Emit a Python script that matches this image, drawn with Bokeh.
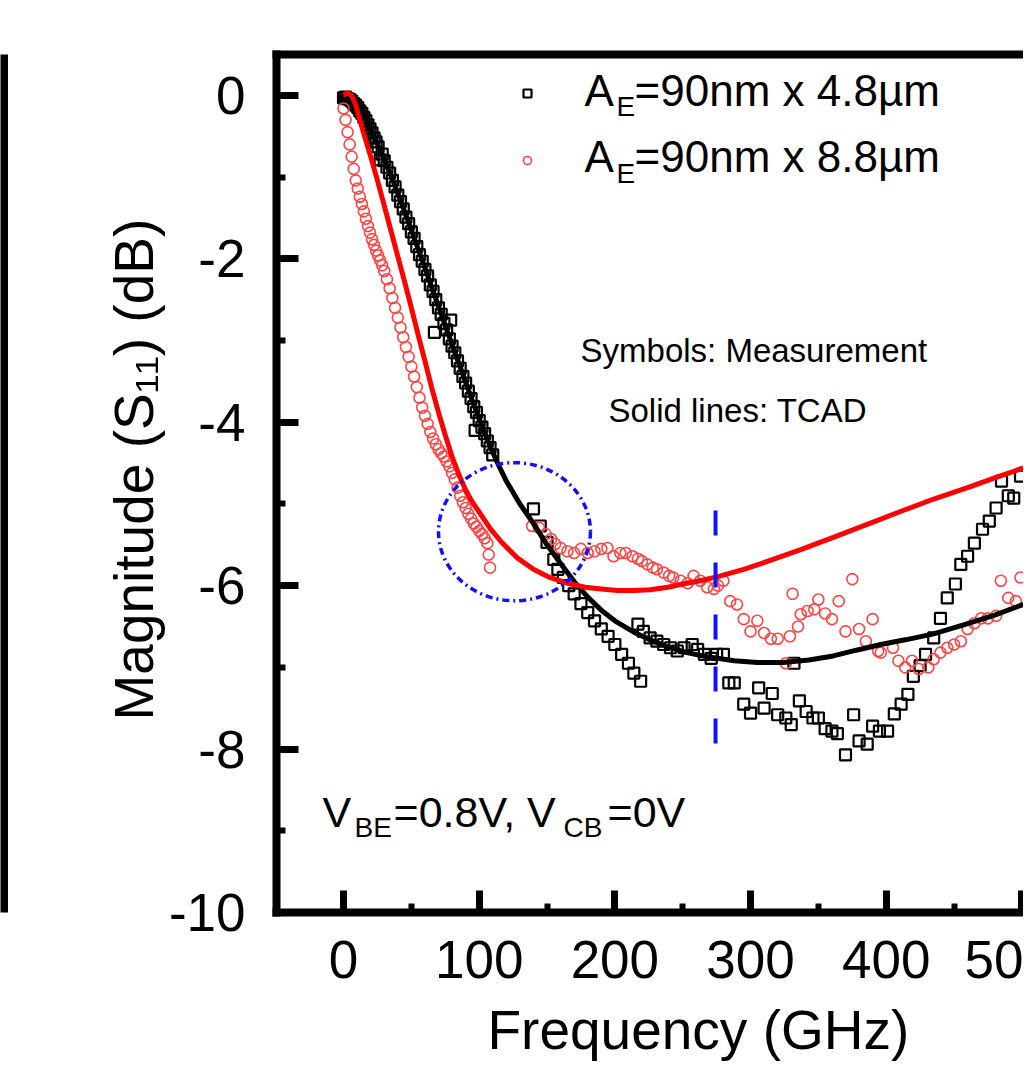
from bokeh.plotting import figure
from bokeh.layouts import row
from bokeh.models import (Range1d, LinearAxis, SingleIntervalTicker, FixedTicker,
                          PrintfTickFormatter, Label, Legend, LegendItem, Title)
from bokeh.embed import file_html
from bokeh.resources import INLINE

# ---------------- data ----------------
# TCAD, A_E = 90nm x 4.8um (black line)
tcad48_f = [0, 5, 10, 15, 20, 25, 30, 35, 40, 45, 50, 55, 60, 65, 70, 75, 80, 85, 90, 95,
            100, 105, 110, 115, 120, 130, 140, 150, 160, 170, 180, 190, 200, 214, 227, 239,
            253, 268, 288, 305, 324, 343, 361, 378, 396, 415, 435, 457, 480, 501]
tcad48_db = [0.0, -0.04, -0.12, -0.25, -0.42, -0.6, -0.79, -0.98, -1.2, -1.42, -1.65, -1.88,
             -2.11, -2.35, -2.58, -2.82, -3.05, -3.28, -3.51, -3.74, -3.96, -4.17, -4.37,
             -4.55, -4.72, -5.0, -5.24, -5.5, -5.73, -5.95, -6.14, -6.3, -6.43, -6.57, -6.67,
             -6.75, -6.82, -6.87, -6.92, -6.94, -6.94, -6.91, -6.86, -6.79, -6.72, -6.66,
             -6.59, -6.48, -6.36, -6.23]

# TCAD, A_E = 90nm x 8.8um (red line)
tcad88_f = [0, 3, 6, 9, 12, 15, 20, 25, 30, 35, 40, 45, 50, 55, 60, 65, 70, 75, 80, 85, 90,
            95, 100, 108, 116, 128, 140, 152, 165, 178, 190, 202, 214, 226, 239, 250, 263,
            276, 295, 313, 337, 361, 386, 411, 435, 460, 480, 501]
tcad88_db = [0.0, 0.03, 0.0, -0.12, -0.3, -0.47, -0.75, -1.04, -1.35, -1.66, -1.97, -2.28,
             -2.6, -2.93, -3.25, -3.58, -3.88, -4.16, -4.42, -4.64, -4.83, -4.98, -5.1, -5.3,
             -5.46, -5.66, -5.8, -5.9, -5.97, -6.02, -6.04, -6.06, -6.06, -6.05, -6.02, -5.98,
             -5.94, -5.89, -5.8, -5.7, -5.56, -5.41, -5.25, -5.09, -4.94, -4.8, -4.68, -4.56]

# Measurement, A_E = 90nm x 4.8um (black squares)
meas48_f = [0, 1.5, 3, 4.5, 6, 7.5, 9, 10.5, 12, 13.5, 15, 16.5, 18, 19.5, 21, 22.5, 24, 25.5,
            27, 28.5, 30, 32, 34, 36, 38, 40, 42, 44, 46, 48, 50, 52, 54, 56, 58, 60, 62, 64,
            66, 67, 68, 70, 72, 74, 76, 78, 79, 80, 82, 84, 86, 88, 90, 92, 94, 96, 97, 98,
            100, 102, 104, 106, 108, 110,
            140, 145, 150, 155, 158, 162, 166, 170, 175, 180, 185, 190, 195, 200, 205, 210,
            214, 219,
            217, 221, 226, 231, 236, 241, 246, 251, 257, 261, 266, 271, 275, 280, 284, 288,
            295, 300, 306, 310, 316, 320, 326,
            330, 332, 336, 341, 346, 350, 355, 360, 364, 370, 376, 380, 386, 390, 395, 401,
            406, 411, 416, 420, 425, 429, 435, 440, 445, 451, 455, 460, 465, 471, 476, 481,
            485, 490, 494, 499]
meas48_db = [-0.03, -0.02, -0.04, -0.05, -0.07, -0.1, -0.12, -0.15, -0.19, -0.22, -0.27,
             -0.31, -0.36, -0.41, -0.46, -0.52, -0.57, -0.63, -0.79, -0.72, -0.8, -0.88,
             -0.95, -1.04, -1.12, -1.22, -1.3, -1.39, -1.49, -1.57, -1.67, -1.75, -1.85,
             -1.95, -2.03, -2.13, -2.21, -2.32, -2.4, -2.9, -2.5, -2.6, -2.68, -2.79, -2.87,
             -2.98, -2.75, -3.07, -3.15, -3.25, -3.34, -3.44, -3.52, -3.62, -3.71, -3.81,
             -4.1, -3.88, -3.98, -4.06, -4.14, -4.23, -4.31, -4.4,
             -5.06, -5.27, -5.47, -5.68, -5.8, -5.9, -6.0, -6.1, -6.22, -6.33, -6.43, -6.53,
             -6.62, -6.72, -6.84, -6.95, -7.07, -7.17,
             -6.47, -6.56, -6.64, -6.68, -6.72, -6.76, -6.8, -6.76, -6.72, -6.78, -6.84,
             -6.89, -6.84, -6.84, -7.19, -7.19, -7.45, -7.56, -7.25, -7.5, -7.32, -7.58, -7.62,
             -7.7, -6.95, -7.41, -7.54, -7.62, -7.62, -7.75, -7.78, -7.81, -8.07, -7.58, -7.9,
             -7.94, -7.72, -7.78, -7.78, -7.57, -7.45, -7.33, -7.11, -6.98, -6.84, -6.64,
             -6.4, -6.15, -5.98, -5.74, -5.64, -5.48, -5.31, -5.21, -5.05, -4.72, -4.9, -4.93,
             -4.66]

# Measurement, A_E = 90nm x 8.8um (red circles)
meas88_f = [0, 1.5, 3, 4.5, 6, 7.5, 9, 10.5, 12, 13.5, 15, 16.5, 18, 19.5, 21, 22.5, 24, 25.5,
            27, 28.5, 30, 32, 34, 36, 38, 40, 42, 44, 46, 48, 50, 52, 54, 56, 58, 60, 62, 64,
            66, 68, 70, 72, 74, 76, 78, 80, 82, 84, 86, 88, 90, 92, 94, 96, 98, 100, 102, 104,
            106, 107, 108,
            139, 144, 149, 153, 156, 160, 165, 170, 175, 180, 185, 190, 194.5, 199, 204, 208,
            213, 217, 220, 224, 228, 231, 236, 240, 243, 248.5, 253.6, 258, 263, 268, 273,
            276, 280, 285, 290, 295, 300, 305, 310, 315, 320, 326, 329, 331, 335, 337, 342,
            347, 350, 355, 360, 365, 370, 375, 380, 385, 390, 394, 396, 405, 409, 414, 419,
            424, 431, 435, 440, 445, 450, 455, 460, 465, 470, 475, 481, 484.5, 490, 495.6,
            499]
meas88_db = [-0.16, -0.3, -0.45, -0.6, -0.75, -0.9, -1.04, -1.14, -1.24, -1.33, -1.42, -1.51,
             -1.6, -1.68, -1.76, -1.83, -1.9, -1.96, -2.02, -2.08, -2.15, -2.25, -2.36, -2.48,
             -2.6, -2.72, -2.84, -2.96, -3.08, -3.2, -3.32, -3.44, -3.57, -3.7, -3.82, -3.92,
             -4.02, -4.12, -4.2, -4.27, -4.33, -4.38, -4.42, -4.48, -4.54, -4.62, -4.7, -4.8,
             -4.9, -4.98, -5.05, -5.12, -5.18, -5.24, -5.28, -5.33, -5.37, -5.42, -5.48,
             -5.62, -5.78,
             -5.27, -5.29, -5.37, -5.43, -5.49, -5.54, -5.58, -5.6, -5.55, -5.6, -5.58, -5.55,
             -5.54, -5.64, -5.6, -5.6, -5.64, -5.67, -5.7, -5.74, -5.78, -5.8, -5.84, -5.88,
             -5.9, -5.94, -5.97, -5.88, -5.94, -6.02, -6.04, -6.0, -5.94, -6.19, -6.23, -6.41,
             -6.56, -6.43, -6.58, -6.65, -6.65, -6.95, -6.62, -6.1, -6.5, -6.35, -6.31, -6.29,
             -6.17, -6.34, -6.41, -6.19, -6.56, -5.92, -6.53, -6.68, -6.41, -6.8, -6.82,
             -6.76, -6.92, -7.0, -6.92, -7.02, -7.0, -6.9, -6.82, -6.76, -6.72, -6.68, -6.53,
             -6.46, -6.4, -6.4, -6.37, -5.94, -6.15, -6.19, -5.9]

x_ticks_step = 100
y_ticks_step = 2
x_label_overrides = {500: "50"}   # the original's right edge crops this label to "50"

# highlighted regions (annotation shapes)
ring_center = (126, -5.34)
ring_size = (112, 1.69)
marker_freq = 274.2
marker_span = (-5.08, -7.96)

FONT = "Liberation Sans"

# ---------------- figure ----------------
W, H = 1015, 1090
p = figure(width=W, height=H, output_backend="svg", toolbar_location=None,
           x_range=Range1d(-49.4, 501.2), y_range=Range1d(-10, 0.5),
           x_axis_type=None, y_axis_type=None,
           min_border_left=268, min_border_right=0, min_border_top=54, min_border_bottom=178)
p.outline_line_color = None
p.background_fill_color = "white"
p.border_fill_color = "white"

def style_axis(ax):
    ax.axis_line_width = 8
    ax.axis_line_cap = "square"
    ax.major_tick_in = 22
    ax.major_tick_out = 0
    ax.major_tick_line_width = 7
    ax.minor_tick_in = 9
    ax.minor_tick_out = 0
    ax.minor_tick_line_width = 6
    ax.major_label_text_font = FONT
    ax.major_label_text_font_size = "53px"
    ax.major_label_text_color = "black"
    ax.formatter = PrintfTickFormatter(format="%d")

xaxis = LinearAxis(ticker=SingleIntervalTicker(interval=x_ticks_step, num_minor_ticks=2))
style_axis(xaxis)
xaxis.major_label_standoff = 28
xaxis.major_label_overrides = x_label_overrides
p.add_layout(xaxis, "below")

yaxis = LinearAxis(ticker=SingleIntervalTicker(interval=y_ticks_step, num_minor_ticks=2))
style_axis(yaxis)
yaxis.major_label_standoff = 31
p.add_layout(yaxis, "left")

top = LinearAxis(ticker=FixedTicker(ticks=[]))
top.axis_line_width = 8
top.axis_line_cap = "square"
top.major_label_text_font_size = "0px"
top.major_tick_line_color = None
top.minor_tick_line_color = None
p.add_layout(top, "above")

# axis titles (side titles, offset like the original)
ytitle = Title(text="Magnitude (S₁₁) (dB)", align="left", offset=192, standoff=2,
               text_font=FONT, text_font_size="55px", text_font_style="normal",
               text_color="black")
p.add_layout(ytitle, "left")
xtitle = Title(text="Frequency (GHz)", align="left", offset=211, standoff=32,
               text_font=FONT, text_font_size="55px", text_font_style="normal",
               text_color="black")
p.add_layout(xtitle, "below")

# measurement symbols
r_sq = p.scatter(meas48_f, meas48_db, marker="square", size=11, fill_color=None,
                 line_color="black", line_width=2.2)
r_ci = p.scatter(meas88_f, meas88_db, marker="circle", size=11, fill_color=None,
                 line_color="#ff4545", line_width=1.6)

# TCAD lines
p.line(tcad48_f, tcad48_db, line_color="black", line_width=5)
p.line(tcad88_f, tcad88_db, line_color="#ff0000", line_width=5)

# blue annotations
p.ellipse(x=[ring_center[0]], y=[ring_center[1]], width=[ring_size[0]], height=[ring_size[1]],
          fill_color=None, line_color="#1010ff", line_width=3.5, line_dash="7 4 2 4")
p.line([marker_freq, marker_freq], list(marker_span), line_color="#1010ff", line_width=4,
       line_dash="25 27")

# legend (markers from the renderers)
legend = Legend(items=[LegendItem(label=" ", renderers=[r_sq]),
                       LegendItem(label=" ", renderers=[r_ci])],
                location=(241, 742), glyph_width=20, glyph_height=20, spacing=47,
                padding=0, margin=0, label_standoff=0, label_text_font_size="1px",
                border_line_color=None, background_fill_alpha=0)
p.add_layout(legend)

def lab(x, y, text, size):
    p.add_layout(Label(x=x, y=y, text=text, text_font=FONT, text_font_size=size,
                       text_align="left", text_baseline="alphabetic", text_color="black"))

# legend texts
lab(177.6, 0.061, "A", "44px")
lab(201.2, -0.137, "E", "28px")
lab(214.5, 0.061, "=90nm x 4.8µm", "44px")
lab(177.6, -0.747, "A", "44px")
lab(201.2, -0.957, "E", "28px")
lab(214.5, -0.747, "=90nm x 8.8µm", "44px")

# notes
lab(174.7, -3.125, "Symbols: Measurement", "33px")
lab(195.3, -3.859, "Solid lines: TCAD", "33px")

lab(-15.5, -8.769, "V", "43px")
lab(8.1, -8.962, "BE", "28px")
lab(36.9, -8.769, "=0.8V, V", "43px")
lab(162.2, -8.962, "CB", "28px")
lab(194.6, -8.769, "=0V", "43px")

# neighbouring panel edge on the far left
strip = figure(width=8, height=H, output_backend="svg", toolbar_location=None,
               x_axis_type=None, y_axis_type=None, min_border_left=0, min_border_right=0,
               min_border_top=54, min_border_bottom=178)
strip.outline_line_color = None
strip.background_fill_color = "black"
strip.border_fill_color = "white"

layout = row(strip, p)
open("out.html", "w").write(file_html(layout, INLINE))
